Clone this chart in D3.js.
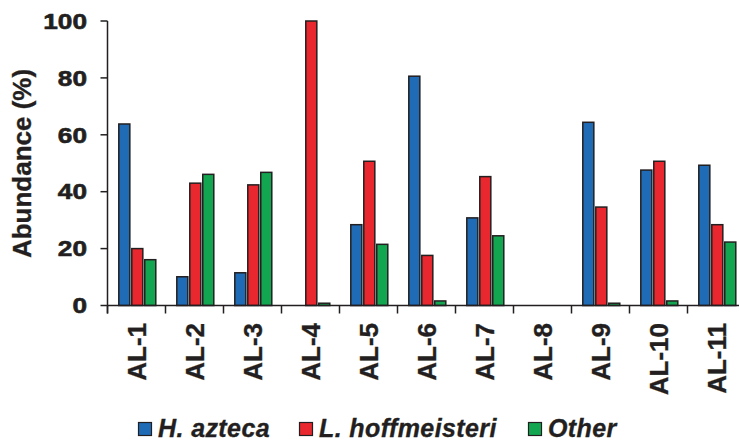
<!DOCTYPE html>
<html>
<head>
<meta charset="utf-8">
<script src="https://cdn.jsdelivr.net/npm/d3@7/dist/d3.min.js"></script>
<style>
  html, body { margin: 0; padding: 0; background: #fff; }
  svg { display: block; }
  text { font-family: "Liberation Sans", Arial, sans-serif; fill: #231f20; stroke: #231f20; stroke-width: 0.35px; }
</style>
</head>
<body>
<svg id="chart" width="739" height="440"></svg>
<script>
const categories = ["AL-1","AL-2","AL-3","AL-4","AL-5","AL-6","AL-7","AL-8","AL-9","AL-10","AL-11"];
const seriesNames = ["H. azteca", "L. hoffmeisteri", "Other"];
const hAzteca      = [63.8, 10.1, 11.5, 0,   28.4, 80.6, 30.8, 0, 64.4, 47.6, 49.3];
const lHoffmeisteri= [20.0, 43.0, 42.4, 100, 50.7, 17.6, 45.3, 0, 34.6, 50.7, 28.4];
const other        = [16.1, 46.1, 46.8, 0.8, 21.5, 1.6,  24.5, 0, 0.8,  1.6,  22.3];
const yTicks = [0, 20, 40, 60, 80, 100];
const yTitle = "Abundance (%)";

const colors = ["#1f6bb5", "#e8282e", "#13a651"];
const seriesValues = [hAzteca, lHoffmeisteri, other];

const svg = d3.select("#chart");
const x0 = 107.5, step = 58;
const x = d3.scaleBand().domain(categories).range([x0, x0 + step * categories.length]).padding(0);
const x1 = d3.scaleBand().domain(seriesNames).range([0, 37]).paddingInner(0.15);
const y = d3.scaleLinear().domain([0, 100]).range([305.5, 21]);

const axisColor = "#231f20";

// bars
const groups = svg.append("g").selectAll("g")
  .data(categories).join("g")
  .attr("transform", d => `translate(${x(d) + x.bandwidth() / 2 - 18.5 + 0.8},0)`);
groups.selectAll("rect")
  .data((d, i) => seriesNames.map((s, j) => ({ s, j, v: seriesValues[j][i] })))
  .join("rect")
  .filter(d => d.v > 0)
  .attr("x", d => x1(d.s))
  .attr("width", x1.bandwidth())
  .attr("y", d => y(d.v))
  .attr("height", d => y(0) - y(d.v))
  .attr("fill", d => colors[d.j])
  .attr("stroke", "#231f20")
  .attr("stroke-width", 1.5);

// x axis
const boundaries = d3.range(categories.length + 1).map(i => x0 + i * step);
svg.append("line")
  .attr("x1", x0).attr("x2", x0 + step * categories.length)
  .attr("y1", y(0)).attr("y2", y(0))
  .attr("stroke", axisColor).attr("stroke-width", 1.5);
svg.append("g").selectAll("line").data(boundaries).join("line")
  .attr("x1", d => d).attr("x2", d => d)
  .attr("y1", y(0)).attr("y2", y(0) + 8)
  .attr("stroke", axisColor).attr("stroke-width", 1.5);

svg.append("g").selectAll("text").data(categories).join("text")
  .attr("transform", d => `translate(${x(d) + x.bandwidth() / 2},323) rotate(-90)`)
  .attr("text-anchor", "end")
  .attr("dy", "0.35em")
  .style("font-size", "26px")
  .style("font-weight", "bold")
  .text(d => d);

// y axis
svg.append("line")
  .attr("x1", x0).attr("x2", x0)
  .attr("y1", y(100)).attr("y2", y(0) + 8)
  .attr("stroke", axisColor).attr("stroke-width", 1.5);
svg.append("g").selectAll("line").data(yTicks).join("line")
  .attr("x1", x0 - 7).attr("x2", x0)
  .attr("y1", d => y(d)).attr("y2", d => y(d))
  .attr("stroke", axisColor).attr("stroke-width", 1.5);
svg.append("g").selectAll("text").data(yTicks).join("text")
  .attr("transform", d => `translate(87,${y(d)}) scale(1.22,1)`)
  .attr("text-anchor", "end")
  .attr("dy", "0.36em")
  .style("font-size", "21.5px")
  .style("font-weight", "bold")
  .style("stroke-width", "0.6px")
  .text(d => d);

svg.append("text")
  .attr("transform", "translate(31,163.5) rotate(-90)")
  .attr("text-anchor", "middle")
  .style("font-size", "26px")
  .style("font-weight", "bold")
  .text(yTitle);

// legend
const legendX = [138.5, 299.5, 528.5];
const lg = svg.append("g").selectAll("g").data(seriesNames).join("g")
  .attr("transform", (d, i) => `translate(${legendX[i]},0)`);
lg.append("rect")
  .attr("x", 0).attr("y", 422.5).attr("width", 13).attr("height", 13)
  .attr("fill", (d, i) => colors[i])
  .attr("stroke", "#231f20").attr("stroke-width", 1.2);
lg.append("text")
  .attr("x", 19.5).attr("y", 436.5)
  .style("font-size", "25px")
  .style("font-weight", "bold")
  .style("font-style", "italic")
  .style("letter-spacing", "0.4px")
  .text(d => d);
</script>
</body>
</html>
